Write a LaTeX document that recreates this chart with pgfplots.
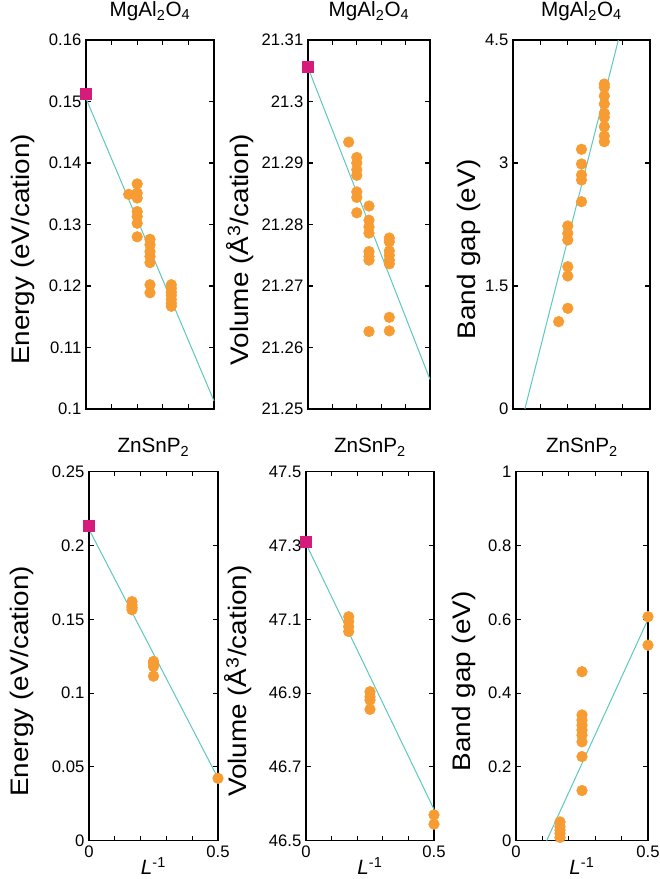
\documentclass[border=0pt]{standalone}
\usepackage{pgfplots}
\pgfplotsset{compat=1.18}
\usepackage{graphicx}
\usepackage{fontspec}
\setmainfont{Liberation Sans}

\definecolor{dotorange}{RGB}{247,156,50}
\definecolor{refmag}{RGB}{213,28,124}
\definecolor{fitteal}{RGB}{92,200,192}

\newcommand{\tfont}{\fontsize{15.5}{18}\selectfont}
\newcommand{\ylab}[1]{\scalebox{1.1}[1]{#1}}

\pgfplotsset{
  panel/.style={
    scale only axis,
    anchor=south west,
    height=276.75pt,
    xmin=0, xmax=0.5,
    xtick={0,0.1,0.2,0.3,0.4,0.5},
    tick align=inside,
    major tick length=3.5pt,
    every tick/.style={black, line width=0.8pt},
    axis line style={line width=1pt},
    clip=false,
    scaled y ticks=false,
    /pgf/number format/assume math mode=true,
    /pgf/number format/fixed,
    ticklabel style={font=\fontsize{12.5}{14}\selectfont},
    title style={anchor=base},
    ylabel style={font=\fontsize{19}{22}\selectfont, anchor=center},
    xlabel style={font=\fontsize{15.5}{18}\selectfont, anchor=base, inner sep=1pt,
      at={([yshift=-25pt]axis description cs:0.5,0)}},
  },
  ylab/.style={ylabel style={at={([xshift=-#1,yshift=-18.75pt]axis description cs:0,0.5)}}},
  tit/.style={title style={at={([yshift=#1]axis description cs:0.5,1)}}},
  toprow/.style={xticklabels={}, tit=11.6pt},
  botrow/.style={xticklabels={0,,,,,0.5}, xlabel={\textit{L}\textsuperscript{-1}}, tit=8.3pt},
  dots/.style={only marks, mark=*, mark size=4pt, color=dotorange,
    mark options={draw=dotorange, fill=dotorange}},
  fitline/.style={no marks, fitteal, line width=0.75pt},
  refpt/.style={only marks, mark=square*, mark size=4.1pt, color=refmag,
    mark options={draw=refmag, fill=refmag}},
}

\begin{document}
\begin{tikzpicture}
\useasboundingbox (0,0) rectangle (495pt,659.25pt);

% ---- top row: MgAl2O4 ----
\begin{axis}[panel, toprow, at={(64.5pt,352.5pt)}, width=96pt,
  ymin=0.1, ymax=0.16, ytick={0.1,0.11,0.12,0.13,0.14,0.15,0.16},
  title={\tfont MgAl\textsubscript{2}O\textsubscript{4}},
  ylabel={\ylab{Energy (eV/cation)}}, ylab=47.6pt]
\addplot[dots] coordinates {
  (0.1667,0.1349)
  (0.2,0.1366) (0.2,0.1351) (0.2,0.1343) (0.2,0.1321) (0.2,0.1313) (0.2,0.1302) (0.2,0.1280)
  (0.25,0.1276) (0.25,0.1267) (0.25,0.1256) (0.25,0.1248) (0.25,0.1238) (0.25,0.1202) (0.25,0.1189)
  (0.3333,0.1202) (0.3333,0.1196) (0.3333,0.1190) (0.3333,0.1185) (0.3333,0.1178) (0.3333,0.1172) (0.3333,0.1167)
};
\addplot[fitline] coordinates {(0,0.1505) (0.5,0.1013)};
\addplot[refpt] coordinates {(0,0.1513)};
\end{axis}

\begin{axis}[panel, toprow, at={(231pt,352.5pt)}, width=91.5pt,
  ymin=21.25, ymax=21.31, ytick={21.25,21.26,21.27,21.28,21.29,21.3,21.31},
  /pgf/number format/precision=2,
  title={\tfont MgAl\textsubscript{2}O\textsubscript{4}},
  ylabel={\ylab{Volume (Å\textsuperscript{3}/cation)}}, ylab=51pt]
\addplot[dots] coordinates {
  (0.1667,21.2934)
  (0.2,21.2909) (0.2,21.2900) (0.2,21.2889) (0.2,21.2880) (0.2,21.2853) (0.2,21.2844) (0.2,21.2819)
  (0.25,21.2830) (0.25,21.2807) (0.25,21.2796) (0.25,21.2786) (0.25,21.2756) (0.25,21.2748) (0.25,21.2742) (0.25,21.2626)
  (0.3333,21.2778) (0.3333,21.2772) (0.3333,21.2757) (0.3333,21.2750) (0.3333,21.2742) (0.3333,21.2736) (0.3333,21.2649) (0.3333,21.2627)
};
\addplot[fitline] coordinates {(0,21.3055) (0.5,21.2548)};
\addplot[refpt] coordinates {(0,21.3057)};
\end{axis}

\begin{axis}[panel, toprow, at={(384.75pt,352.5pt)}, width=102.75pt,
  ymin=0, ymax=4.5, ytick={0,1.5,3,4.5},
  title={\tfont MgAl\textsubscript{2}O\textsubscript{4}},
  ylabel={\ylab{Band gap (eV)}}, ylab=33pt]
\addplot[dots] coordinates {
  (0.1667,1.065)
  (0.2,1.228) (0.2,1.622) (0.2,1.735) (0.2,2.061) (0.2,2.142) (0.2,2.232)
  (0.25,2.528) (0.25,2.793) (0.25,2.854) (0.25,2.988) (0.25,3.167)
  (0.3333,3.963) (0.3333,3.923) (0.3333,3.817) (0.3333,3.720) (0.3333,3.606) (0.3333,3.557) (0.3333,3.443) (0.3333,3.329) (0.3333,3.260)
};
\addplot[fitline] coordinates {(0.0433,0) (0.3845,4.5)};
\end{axis}

% ---- bottom row: ZnSnP2 ----
\begin{axis}[panel, botrow, at={(66.75pt,28.7pt)}, width=96.75pt,
  ymin=0, ymax=0.25, ytick={0,0.05,0.1,0.15,0.2,0.25},
  title={\tfont ZnSnP\textsubscript{2}},
  ylabel={\ylab{Energy (eV/cation)}}, ylab=50pt]
\addplot[dots] coordinates {
  (0.1667,0.1620) (0.1667,0.1595) (0.1667,0.1580) (0.1667,0.1565)
  (0.25,0.1215) (0.25,0.1200) (0.25,0.1180) (0.25,0.1115)
  (0.5,0.0423)
};
\addplot[fitline] coordinates {(0,0.2110) (0.5,0.0424)};
\addplot[refpt] coordinates {(0,0.2134)};
\end{axis}

\begin{axis}[panel, botrow, at={(229.5pt,28.7pt)}, width=96pt,
  ymin=46.5, ymax=47.5, ytick={46.5,46.7,46.9,47.1,47.3,47.5},
  title={\tfont ZnSnP\textsubscript{2}},
  ylabel={\ylab{Volume (Å\textsuperscript{3}/cation)}}, ylab=50.6pt]
\addplot[dots] coordinates {
  (0.1667,47.107) (0.1667,47.094) (0.1667,47.080) (0.1667,47.067)
  (0.25,46.904) (0.25,46.890) (0.25,46.881) (0.25,46.856)
  (0.5,46.570) (0.5,46.545)
};
\addplot[fitline] coordinates {(0,47.305) (0.5,46.585)};
\addplot[refpt] coordinates {(0,47.309)};
\end{axis}

\begin{axis}[panel, botrow, at={(387pt,28.7pt)}, width=99pt,
  ymin=0, ymax=1, ytick={0,0.2,0.4,0.6,0.8,1},
  title={\tfont ZnSnP\textsubscript{2}},
  ylabel={\ylab{Band gap (eV)}}, ylab=39pt]
\addplot[dots] coordinates {
  (0.5,0.607) (0.5,0.530)
  (0.25,0.458) (0.25,0.341) (0.25,0.327) (0.25,0.313) (0.25,0.300) (0.25,0.286) (0.25,0.268) (0.25,0.228) (0.25,0.136)
  (0.1667,0.051) (0.1667,0.038) (0.1667,0.029) (0.1667,0.020) (0.1667,0.009)
};
\addplot[fitline] coordinates {(0.116,0) (0.5,0.600)};
\end{axis}
\end{tikzpicture}
\end{document}
